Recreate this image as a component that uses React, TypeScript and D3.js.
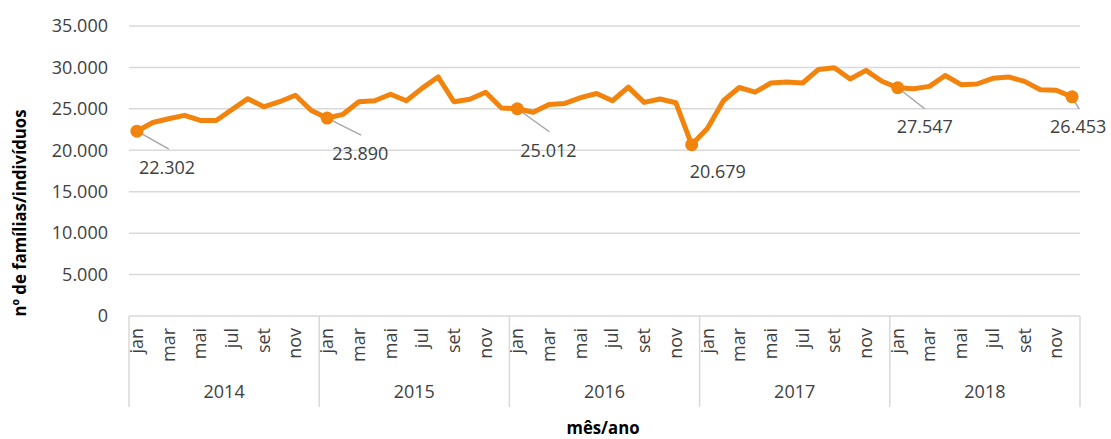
import React, { useRef, useEffect } from 'react';
import * as d3 from 'd3';

// data
const years = ['2014', '2015', '2016', '2017', '2018'];
const monthNames = ['jan', 'fev', 'mar', 'abr', 'mai', 'jun', 'jul', 'ago', 'set', 'out', 'nov', 'dez'];
const shownMonths = ['jan', 'mar', 'mai', 'jul', 'set', 'nov'];
const values2014 = [22302, 23360, 23810, 24220, 23600, 23600, 24920, 26230, 25250, 25860, 26640, 24800];
const values2015 = [23890, 24340, 25860, 25980, 26760, 25980, 27500, 28850, 25860, 26150, 27010, 25100];
const values2016 = [25012, 24590, 25530, 25660, 26350, 26850, 25980, 27620, 25780, 26190, 25740, 20679];
const values2017 = [22660, 25980, 27580, 27010, 28120, 28240, 28120, 29760, 29960, 28610, 29640, 28330];
const values2018 = [27547, 27420, 27710, 29030, 27920, 28000, 28690, 28850, 28320, 27300, 27250, 26453];
const yTicks = [0, 5000, 10000, 15000, 20000, 25000, 30000, 35000];
const labelled = [0, 12, 24, 35, 48, 59];

// label placement relative to the point: [lineDx, lineDy, textDx, textDy]
const labelOffsets: { [k: number]: number[] | null } = {
  0: [32, 18, 2, 43],
  12: [34, 17, 5, 42],
  24: [32, 23, 3, 48],
  35: null,
  48: [27, 21, -1, 45],
  59: [7, 12, -22, 36],
};

const W = 1111;
const H = 439;
const ORANGE = '#F2830C';
const GRID = '#d9d9d9';
const TEXT = '#404040';
const FONT = '"Open Sans", "Noto Sans", sans-serif';

export default function App() {
  const svgRef = useRef<SVGSVGElement>(null);

  useEffect(() => {
    if (!svgRef.current) return;
    const svg = d3.select(svgRef.current);
    svg.selectAll('*').remove();

    const values = [...values2014, ...values2015, ...values2016, ...values2017, ...values2018];
    const idx = d3.range(values.length);

    const x = d3.scaleBand<number>().domain(idx).range([129, 1080]).padding(0);
    const y = d3.scaleLinear().domain([0, 35000]).range([316, 26]);
    const cx = (i: number) => (x(i) as number) + x.bandwidth() / 2;

    const pt = d3.formatLocale({ decimal: ',', thousands: '.', grouping: [3], currency: ['R$', ''] });
    const fmt = pt.format(',d');

    svg.append('rect').attr('width', W).attr('height', H).attr('fill', '#ffffff');

    // gridlines + y tick labels
    svg.append('g')
      .selectAll('line')
      .data(yTicks.filter(t => t > 0))
      .join('line')
      .attr('x1', 129).attr('x2', 1080)
      .attr('y1', d => y(d)).attr('y2', d => y(d))
      .attr('stroke', GRID).attr('stroke-width', 1.5);

    svg.append('g')
      .selectAll('text')
      .data(yTicks)
      .join('text')
      .attr('x', 108)
      .attr('y', d => y(d))
      .attr('dy', '0.35em')
      .attr('text-anchor', 'end')
      .attr('font-family', FONT)
      .attr('font-size', 18)
      .attr('fill', TEXT)
      .text(d => fmt(d));

    // category axis
    svg.append('line')
      .attr('x1', 129).attr('x2', 1080)
      .attr('y1', y(0)).attr('y2', y(0))
      .attr('stroke', GRID).attr('stroke-width', 1.5);

    const bounds = d3.range(years.length + 1).map(k => k === years.length ? x.range()[1] : (x(k * 12) as number));
    svg.append('g')
      .selectAll('line')
      .data(bounds)
      .join('line')
      .attr('x1', d => d).attr('x2', d => d)
      .attr('y1', y(0)).attr('y2', 407)
      .attr('stroke', GRID).attr('stroke-width', 1.5);

    const monthIdx = idx.filter(i => shownMonths.includes(monthNames[i % 12]));
    svg.append('g')
      .selectAll('text')
      .data(monthIdx)
      .join('text')
      .attr('transform', i => `translate(${cx(i) + 6},328) rotate(-90)`)
      .attr('text-anchor', 'end')
      .attr('font-family', FONT)
      .attr('font-size', 18)
      .attr('fill', TEXT)
      .text(i => monthNames[i % 12]);

    svg.append('g')
      .selectAll('text')
      .data(years)
      .join('text')
      .attr('x', (_d, k) => (bounds[k] + bounds[k + 1]) / 2)
      .attr('y', 398)
      .attr('text-anchor', 'middle')
      .attr('font-family', FONT)
      .attr('font-size', 18)
      .attr('fill', TEXT)
      .text(d => d);

    // axis titles
    svg.append('text')
      .attr('transform', 'translate(26,213) rotate(-90)')
      .attr('text-anchor', 'middle')
      .attr('font-family', FONT)
      .attr('font-weight', 'bold')
      .attr('font-size', 17)
      .attr('textLength', 207)
      .attr('lengthAdjust', 'spacingAndGlyphs')
      .attr('fill', '#000')
      .text('nº de famílias/indivíduos');

    svg.append('text')
      .attr('x', 603)
      .attr('y', 434)
      .attr('text-anchor', 'middle')
      .attr('font-family', FONT)
      .attr('font-weight', 'bold')
      .attr('font-size', 17)
      .attr('textLength', 73)
      .attr('lengthAdjust', 'spacingAndGlyphs')
      .attr('fill', '#000')
      .text('mês/ano');

    // leader lines
    labelled.forEach(i => {
      const o = labelOffsets[i];
      if (!o) return;
      svg.append('line')
        .attr('x1', cx(i)).attr('y1', y(values[i]))
        .attr('x2', cx(i) + o[0]).attr('y2', y(values[i]) + o[1])
        .attr('stroke', '#a6a6a6').attr('stroke-width', 1.5);
    });

    // series line
    const line = d3.line<number>().x(i => cx(i)).y(i => y(values[i]));
    svg.append('path')
      .datum(idx)
      .attr('d', line)
      .attr('fill', 'none')
      .attr('stroke', ORANGE)
      .attr('stroke-width', 5)
      .attr('stroke-linejoin', 'round');

    svg.append('g')
      .selectAll('circle')
      .data(labelled)
      .join('circle')
      .attr('cx', i => cx(i))
      .attr('cy', i => y(values[i]))
      .attr('r', 6.5)
      .attr('fill', ORANGE);

    // data labels
    labelled.forEach(i => {
      const o = labelOffsets[i];
      const tx = o ? cx(i) + o[2] : cx(i) - 2;
      const ty = o ? y(values[i]) + o[3] : y(values[i]) + 33;
      svg.append('text')
        .attr('x', tx)
        .attr('y', ty)
        .attr('font-family', FONT)
        .attr('font-size', 18)
        .attr('fill', TEXT)
        .text(fmt(values[i]));
    });
  }, []);

  return (
    <svg ref={svgRef} width={W} height={H} style={{ position: 'absolute', left: 0, top: 0 }} />
  );
}
